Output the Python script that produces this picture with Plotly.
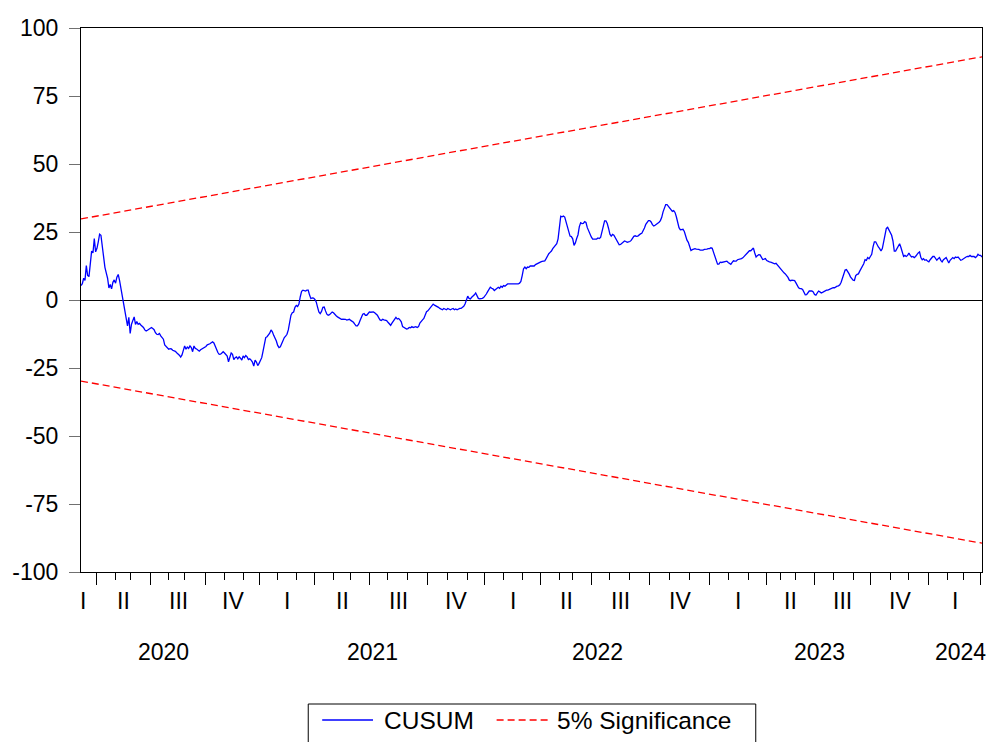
import plotly.graph_objects as go

# CUSUM statistic, one value per observation (observation 0 = first estimate)
cusum = [
    5.3, 6.0, 8.0, 7.2, 12.7, 9.0, 8.6, 13.3, 18.0, 17.3,
    22.6, 17.7, 19.0, 21.4, 24.2, 23.8, 19.0, 16.0, 12.0, 10.0,
    8.0, 4.4, 5.7, 4.1, 6.5, 7.4, 6.2, 8.4, 9.4, 7.2,
    4.4, 1.6, -0.9, -3.3, -5.8, -9.5, -6.4, -12.3, -8.9, -7.5,
    -6.2, -9.0, -7.9, -8.9, -8.6, -9.2, -9.5, -10.1, -11.0, -11.4,
    -11.1, -10.8, -10.6, -10.1, -10.5, -10.9, -12.0, -12.6, -12.7, -12.3,
    -13.2, -13.8, -14.4, -16.5, -17.0, -17.5, -18.1, -17.9, -18.0, -18.5,
    -18.7, -18.9, -19.4, -19.8, -20.3, -21.0, -20.2, -18.5, -16.9, -18.1,
    -17.3, -17.8, -16.9, -17.5, -19.0, -16.9, -17.8, -18.0, -18.3, -18.8,
    -18.3, -18.0, -17.8, -17.5, -17.1, -16.5, -16.4, -16.1, -15.7, -15.4,
    -15.8, -17.0, -18.4, -19.3, -20.0, -19.9, -19.5, -19.0, -19.5, -20.1,
    -20.6, -22.7, -21.0, -19.5,
    -20.0, -21.9, -21.2, -20.9, -21.6, -20.9, -21.4, -22.1, -20.6, -21.2,
    -20.4, -20.9, -21.9, -21.6, -22.1, -22.8, -24.3, -22.1, -22.8, -24.1,
    -23.3, -22.5, -21.2, -18.8, -15.7, -13.8, -13.5, -13.0, -12.2, -11.0,
    -11.7, -13.0, -13.8, -15.1, -16.7, -17.5, -17.2, -15.9, -14.6, -13.8,
    -13.3, -12.6, -11.0, -8.4, -5.6, -4.7, -4.4, -2.7, -2.0, -2.4,
    -1.5, 1.2, 3.2, 3.6, 3.5, 3.3, 3.6, 3.6, 1.8, 0.5,
    0.8, 0.7, 0.2, -0.7, -2.6, -4.4, -5.0, -4.2, -2.7, -2.6,
    -4.0, -5.2, -5.6, -5.4, -4.9, -4.4, -4.7, -5.4, -5.8, -6.2,
    -6.6, -6.9, -7.1, -7.0, -7.0, -7.1, -7.4, -7.3, -7.1, -7.5,
    -7.8, -8.2, -8.9, -9.5, -9.5, -8.8, -7.5, -6.2, -5.2, -5.0,
    -5.6, -5.6, -4.9, -4.4, -4.5, -4.5, -4.4, -4.7, -5.0, -5.6,
    -6.5, -7.3, -7.5, -7.1, -7.3, -7.5, -7.6, -8.2, -8.8, -9.3,
    -8.5, -7.7, -7.3, -6.4, -7.0, -6.8, -7.3, -8.0, -9.8, -10.1,
    -10.5, -10.7, -10.5, -10.1, -10.2, -9.8, -10.1, -9.8, -9.8, -10.1,
    -9.8, -8.5, -7.7, -7.3, -6.8, -5.2, -4.3, -4.0, -3.3, -2.7,
    -1.9, -1.5, -1.9, -2.1, -2.3, -2.7, -3.1, -3.3, -3.6, -3.1,
    -3.3, -3.6, -3.1, -3.3, -3.6, -3.3, -3.1, -3.6, -3.3, -3.6,
    -3.3, -3.1, -3.1, -2.8, -2.3, -1.5, 0.1, 1.4, 0.6, 0.4,
    1.0, 1.4, 1.9, 2.6, 1.6, 0.6, 0.4, 0.4, 0.6, 0.9,
    1.4, 2.2, 3.1, 4.1, 4.7, 4.3, 4.1, 3.5, 3.8, 4.3,
    4.7, 4.3, 5.1, 4.7, 5.3, 5.1, 5.6, 5.9, 5.9, 5.9,
    6.0, 6.0, 5.9, 6.0, 6.0, 5.9, 6.2, 6.8, 9.0, 11.5,
    12.1, 11.5, 12.1, 12.0, 12.5, 12.5, 12.7, 12.5, 13.0, 13.3,
    13.7, 14.0, 14.0, 14.2, 14.4, 14.4,
    15.2, 16.4, 17.0, 17.5, 18.0, 18.9, 19.5, 20.1, 20.7, 22.5,
    28.0, 30.8, 30.6, 30.9, 30.5, 28.5, 26.6, 25.0, 23.5, 23.3,
    22.5, 20.1, 21.0, 22.6, 24.0, 27.0, 28.4, 28.1, 28.2, 28.8,
    28.5, 26.6, 25.2, 24.2, 23.2, 22.4, 22.4, 22.4, 22.4, 22.8,
    22.6, 23.0, 24.8, 27.2, 29.1, 29.1, 28.1, 26.3, 24.2, 23.5,
    24.1, 23.8, 22.9, 22.3, 21.2, 20.3, 20.4, 20.8, 21.2, 21.7,
    21.5, 21.2, 21.4, 21.5, 21.9, 22.6, 23.4, 23.6, 23.4, 23.5,
    24.0, 24.3, 24.5, 25.3, 26.5, 27.8, 28.7, 29.2, 29.2, 28.7,
    27.7, 27.2, 27.5, 27.8, 28.2, 28.6, 29.2, 30.4, 32.4, 34.3,
    35.1, 35.1, 34.5, 33.9, 32.9, 32.6, 32.9, 32.2, 30.6, 28.5,
    26.6, 25.8, 26.0, 26.0, 25.2, 23.5, 22.0, 21.2, 19.8, 18.2,
    18.5, 18.7, 18.9, 18.7, 18.7, 18.6, 18.3,
    18.2, 18.3, 18.6, 18.6, 18.7, 18.9, 18.9, 19.2, 19.0, 17.5,
    16.0, 14.4, 13.2, 13.2, 13.9, 13.8, 14.0, 14.0, 14.2, 14.3,
    13.8, 13.3, 13.1, 13.8, 14.4, 14.3, 14.3, 14.8, 14.9, 15.0,
    15.2, 15.5, 16.0, 16.4, 17.0, 17.6, 18.1, 18.1, 18.5, 19.1,
    17.3, 15.8, 16.3, 16.7, 16.6, 15.7, 14.9, 15.0, 15.2, 14.5,
    14.1, 14.0, 13.9, 13.7, 13.5, 13.3, 13.5, 12.9, 12.1, 11.6,
    10.8, 10.2, 10.0, 9.6, 9.0, 8.3, 7.3, 7.1, 7.3, 7.3,
    7.1, 6.3, 5.3, 4.5, 4.2, 4.2, 3.9, 2.7, 1.9, 2.0,
    2.7, 3.3, 3.3, 3.3, 3.0, 2.0, 1.8, 2.7, 3.3, 3.0,
    2.6, 2.8, 3.1, 3.3, 3.6, 3.6, 3.8, 4.1, 4.4, 4.5,
    4.5, 4.9, 5.1, 5.2, 5.6, 6.5, 8.0, 9.5, 11.0, 11.2,
    10.6, 9.6, 8.5, 7.8, 7.3, 7.2,
    9.0, 9.4, 9.6, 10.6, 11.5, 12.3, 13.3, 14.8, 14.6, 15.6,
    15.2, 16.0, 16.8, 19.5, 21.4, 21.4, 20.1, 19.5, 18.9, 18.0,
    18.9, 21.0, 23.5, 26.3, 26.7, 25.7, 24.7, 23.8, 21.7, 18.0,
    18.0, 18.9, 20.1, 20.7, 19.3, 17.0, 16.0, 16.4, 16.0, 16.4,
    17.3, 16.4, 15.8, 16.0, 15.6, 16.0, 16.8, 17.3, 17.7, 15.6,
    14.8, 15.2, 14.6, 14.8, 14.3, 14.0, 14.8, 15.6, 16.0, 16.0,
    15.2, 14.6, 15.2, 15.6, 14.6, 14.0, 14.8, 15.2, 15.6, 14.6,
    13.6, 14.6, 15.2, 15.6, 15.2, 15.8, 15.6, 15.8, 15.2, 14.6,
    14.8, 15.2, 15.6, 15.8, 16.0, 16.0, 16.4, 16.0, 16.0, 16.0,
    15.6, 16.0, 16.8, 16.4, 16.4, 15.8,
]
obs = list(range(len(cusum)))
last_obs = obs[-1]

# 5% significance bounds (straight lines from first to last observation)
band_obs = [0, last_obs]
upper_band = [29.8, 89.4]
lower_band = [-29.8, -89.4]

# first observation of each month, starting with April 2020
first_month = (2020, 4)
month_start_obs = [12, 26, 37, 52, 66, 78, 94, 108, 122, 134, 148, 162,
                   176, 190, 203, 217, 231, 246, 261, 276, 291, 304, 318, 332,
                   346, 360, 370, 384, 398, 413, 428, 443, 458, 473, 487, 502,
                   516, 526, 538, 552, 566, 581, 594, 609, 623, 638, 652, 664,
                   677]

quarter_names = ["I", "II", "III", "IV"]
years = [2020, 2021, 2022, 2023, 2024]
year_label_obs = [62, 219, 389, 556, 662]

y_ticks = [-100, -75, -50, -25, 0, 25, 50, 75, 100]
y_tick_text = [str(v) for v in y_ticks]  # plain hyphen for negatives

FONT = "Arial, Liberation Sans, sans-serif"
TICK_SIZE = 23
LEGEND_SIZE = 24.5
W, H = 995, 742
ML, MR, MT, MB = 79, 12, 28, 170
PW, PH = W - ML - MR, H - MT - MB

# calendar of month starts
months = []
yy, mm = first_month
for o in month_start_obs:
    months.append((o, yy, mm))
    mm += 1
    if mm > 12:
        mm = 1
        yy += 1

quarter_starts = [(o, y, m) for (o, y, m) in months if m in (1, 4, 7, 10)]
quarter_obs = [q[0] for q in quarter_starts]
minor_obs = [o for (o, y, m) in months if m not in (1, 4, 7, 10)]

fig = go.Figure()
fig.add_trace(go.Scatter(x=obs, y=cusum, mode="lines", name="CUSUM",
                         line=dict(color="#0000FF", width=1.3)))
fig.add_trace(go.Scatter(x=band_obs, y=upper_band, mode="lines",
                         name="5% Significance",
                         line=dict(color="#FF0000", width=1.3, dash="7px,4px")))
fig.add_trace(go.Scatter(x=band_obs, y=lower_band, mode="lines",
                         name="5% Significance", showlegend=False,
                         line=dict(color="#FF0000", width=1.3, dash="7px,4px")))

annotations = []

# quarter labels, centred inside each quarter
bounds = [0] + quarter_obs + [last_obs]
q_first = (quarter_starts[0][2] - 1) // 3
for i in range(len(bounds) - 1):
    a, b = bounds[i], bounds[i + 1]
    if b - a < 8:
        continue
    if i == 0:
        q = (q_first - 1) % 4
        x, xa, xs = a, "left", -3
    else:
        q = (quarter_starts[i - 1][2] - 1) // 3
        x, xa, xs = (a + b) / 2, "center", 0
    annotations.append(dict(x=x, y=0, xref="x", yref="paper", text=quarter_names[q],
                            showarrow=False, xanchor=xa, xshift=xs,
                            yanchor="middle", yshift=-29,
                            font=dict(family=FONT, size=TICK_SIZE, color="black")))

# year labels
for yr, xo in zip(years, year_label_obs):
    annotations.append(dict(x=xo, y=0, xref="x", yref="paper", text=str(yr),
                            showarrow=False, xanchor="center", yanchor="middle",
                            yshift=-80,
                            font=dict(family=FONT, size=TICK_SIZE, color="black")))


def px_x(p):
    return (p - ML) / PW


def px_y(p):
    return (H - MB - p) / PH


# boxed legend below the plot
leg_y = px_y(720)
shapes = [
    dict(type="rect", xref="paper", yref="paper", x0=px_x(307), x1=px_x(756),
         y0=px_y(704), y1=px_y(800), line=dict(color="black", width=1),
         fillcolor="white", layer="above"),
    dict(type="line", xref="paper", yref="paper", x0=px_x(321), x1=px_x(372),
         y0=leg_y, y1=leg_y, line=dict(color="#0000FF", width=1.3)),
    dict(type="line", xref="paper", yref="paper", x0=px_x(496), x1=px_x(548),
         y0=leg_y, y1=leg_y, line=dict(color="#FF0000", width=1.3, dash="7px,4px")),
]
annotations.append(dict(x=px_x(381), y=leg_y, xref="paper", yref="paper", text="CUSUM",
                        showarrow=False, xanchor="left", yanchor="middle",
                        font=dict(family=FONT, size=LEGEND_SIZE, color="black")))
annotations.append(dict(x=px_x(555), y=leg_y, xref="paper", yref="paper",
                        text="5% Significance", showarrow=False, xanchor="left",
                        yanchor="middle",
                        font=dict(family=FONT, size=LEGEND_SIZE, color="black")))

fig.update_layout(
    width=W, height=H,
    margin=dict(l=ML, r=MR, t=MT, b=MB, pad=0),
    paper_bgcolor="white", plot_bgcolor="white",
    showlegend=False,
    font=dict(family=FONT, size=TICK_SIZE, color="black"),
    annotations=annotations,
    shapes=shapes,
    xaxis=dict(
        range=[0, last_obs], showline=True, mirror=True, linecolor="black", linewidth=1,
        showgrid=False, zeroline=False,
        tickmode="array", tickvals=quarter_obs, ticktext=[""] * len(quarter_obs),
        ticks="outside", ticklen=12, tickwidth=1, tickcolor="black",
        minor=dict(tickmode="array", tickvals=minor_obs, ticks="outside",
                   ticklen=7, tickwidth=1, tickcolor="black", showgrid=False),
    ),
    yaxis=dict(
        range=[-100, 100], showline=True, mirror=True, linecolor="black", linewidth=1,
        showgrid=False, zeroline=True, zerolinecolor="black", zerolinewidth=1,
        tickmode="array", tickvals=y_ticks, ticktext=y_tick_text,
        ticks="outside", ticklen=11, tickwidth=1, tickcolor="#707070",
        tickfont=dict(family=FONT, size=TICK_SIZE, color="black"),
        ticklabelstandoff=6,
    ),
)

fig.write_html("out.html")
